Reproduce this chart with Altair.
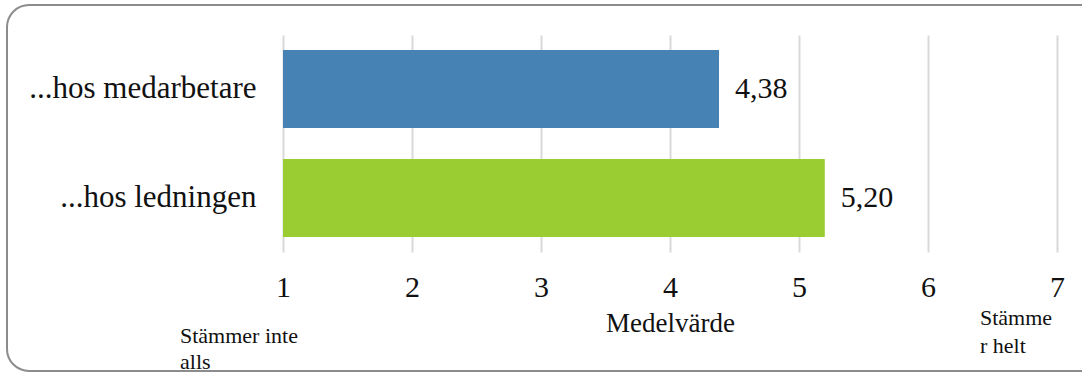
import altair as alt
import pandas as pd

# Mean scores on a 1-7 agreement scale
categories = ["...hos medarbetare", "...hos ledningen"]
values = [4.38, 5.20]
bar_colors = ["steelblue", "yellowgreen"]
tick_values = [1, 2, 3, 4, 5, 6, 7]
scale_min, scale_max = 1, 7
axis_title = "Medelvärde"
low_anchor = ["Stämmer inte", "alls"]
high_anchor = ["Stämme", "r helt"]

FONT = "Liberation Serif"
INK = "#111111"
BIG = 30

df = pd.DataFrame({
    "kategori": categories,
    "medel": values,
    "start": [scale_min] * len(values),
    "etikett": [f"{v:.2f}".replace(".", ",") for v in values],
})

W, H = 774, 217
PAD = {"left": 283, "top": 35, "right": 25, "bottom": 121}

x_scale = alt.Scale(domain=[scale_min, scale_max], zero=False, nice=False)
y_scale = alt.Scale(paddingInner=0.284, paddingOuter=0.138)

x_axis = alt.Axis(
    values=tick_values, format="d", ticks=False, domain=False,
    grid=True, gridColor="#d9d9d9", gridWidth=2,
    labelPadding=20, labelFontSize=BIG, labelFlush=False,
    title=axis_title, titleFontSize=27,
    titleFontWeight="normal", titlePadding=8,
)
y_axis = alt.Axis(
    title=None, ticks=False, domain=False, labelPadding=27,
    labelFontSize=31, labelLimit=400,
)


def x_enc(field):
    return alt.X(field, scale=x_scale, axis=x_axis)


y_enc = alt.Y("kategori:N", sort=categories, scale=y_scale, axis=y_axis)

bars = alt.Chart(df).mark_bar().encode(
    x=x_enc("medel:Q"),
    x2="start:Q",
    y=y_enc,
    color=alt.Color(
        "kategori:N",
        scale=alt.Scale(domain=categories, range=bar_colors),
        legend=None,
    ),
)

value_labels = alt.Chart(df).mark_text(
    align="left", baseline="middle", dx=16, fontSize=BIG,
).encode(
    x=x_enc("medel:Q"),
    y=y_enc,
    text="etikett:N",
)

anchors = pd.DataFrame({
    "pos": [scale_min, scale_max],
    "text": [low_anchor, high_anchor],
})

low_text = alt.Chart(anchors.iloc[[0]]).mark_text(
    align="left", baseline="alphabetic", dx=-103, lineHeight=26, fontSize=22,
).encode(
    x=x_enc("pos:Q"),
    y=alt.value(308),
    text="text",
)

high_text = alt.Chart(anchors.iloc[[1]]).mark_text(
    align="left", baseline="alphabetic", dx=-77, lineHeight=28, fontSize=22,
).encode(
    x=x_enc("pos:Q"),
    y=alt.value(290),
    text="text",
)

# rounded frame around the whole figure
frame = alt.Chart(df.iloc[[0]]).mark_rect(
    fill=None, fillOpacity=0, stroke="#8c8c8c", strokeWidth=2,
    cornerRadius=22, clip=False,
).encode(
    x=alt.value(7 - PAD["left"]),
    x2=alt.value(1104 - PAD["left"]),
    y=alt.value(5 - PAD["top"]),
    y2=alt.value(371 - PAD["top"]),
)

chart = alt.layer(bars, frame, value_labels, low_text, high_text).properties(
    width=W, height=H,
    autosize=alt.AutoSizeParams(type="none"),
    padding=PAD,
).configure_view(
    stroke=None
).configure_axis(
    labelFont=FONT, titleFont=FONT, labelColor=INK, titleColor=INK,
).configure_text(
    font=FONT, color=INK,
)

chart.save("out.html", embed_options={"renderer": "svg", "actions": False})
